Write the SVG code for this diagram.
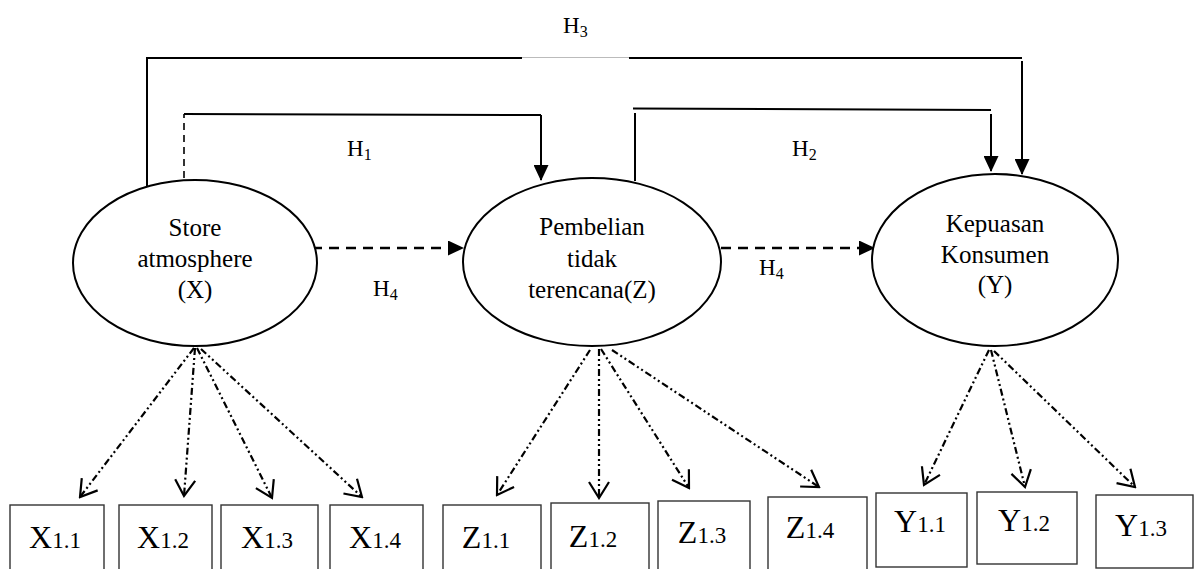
<svg xmlns="http://www.w3.org/2000/svg" width="1195" height="569" viewBox="0 0 1195 569">
<style>
text{font-family:"Liberation Serif","Times New Roman",serif;fill:#000}
.lbl{font-size:25px;text-anchor:middle}
.h{font-size:23px}
.hs{font-size:16px}
.bl{text-anchor:middle}
.big{font-size:32px}
.sm{font-size:23px}
.ell{fill:#fff;stroke:#000;stroke-width:2}
.box{fill:#fff;stroke:#333;stroke-width:1.4}
.solid{fill:none;stroke:#000;stroke-width:2}
.dash{fill:none;stroke:#000;stroke-width:2.5;stroke-dasharray:10 7}
.vdash{fill:none;stroke:#000;stroke-width:1.6;stroke-dasharray:7 5}
.dd{fill:none;stroke:#000;stroke-width:2.2;stroke-dasharray:7 3 2 3 2 3}
</style>
<defs>
<marker id="fa" markerWidth="16" markerHeight="15" refX="15" refY="7.5" orient="auto" markerUnits="userSpaceOnUse"><path d="M0,0 L16,7.5 L0,15 Z" fill="#000"/></marker>
<marker id="oa" markerWidth="20" markerHeight="24" refX="18" refY="12" orient="auto" markerUnits="userSpaceOnUse"><path d="M2,2 L18,12 L2,22" fill="none" stroke="#000" stroke-width="2.2"/></marker>
</defs>
<g id="connectors">
<path class="solid" d="M147,186 V58 H522"/>
<line x1="522" y1="57.5" x2="629" y2="57.5" stroke="#bbb" stroke-width="1"/>
<path class="solid" d="M629,58 H1022"/>
<path class="solid" d="M1022,61 V174" marker-end="url(#fa)"/>
<path class="vdash" d="M184,178 V114"/>
<path class="solid" d="M184,114 L541,115"/>
<path class="solid" d="M541,115 V180" marker-end="url(#fa)"/>
<path class="solid" d="M635,181 V113"/>
<path class="solid" d="M633,108.5 L991,110"/>
<path class="solid" d="M991,114 V171" marker-end="url(#fa)"/>
<path class="dash" d="M312,248 H463" marker-end="url(#fa)"/>
<path class="dash" d="M721,248 H874" marker-end="url(#fa)"/>
<path class="dd" d="M194,348 L80,497" marker-end="url(#oa)"/>
<path class="dd" d="M195,348 L184,496" marker-end="url(#oa)"/>
<path class="dd" d="M197,348 L272,498" marker-end="url(#oa)"/>
<path class="dd" d="M201,349 L362,497" marker-end="url(#oa)"/>
<path class="dd" d="M590,350 L497,495" marker-end="url(#oa)"/>
<path class="dd" d="M599,349 L599,498" marker-end="url(#oa)"/>
<path class="dd" d="M601,349 L689,488" marker-end="url(#oa)"/>
<path class="dd" d="M612,350 L819,487" marker-end="url(#oa)"/>
<path class="dd" d="M989,350 L924,485" marker-end="url(#oa)"/>
<path class="dd" d="M991,350 L1025,487" marker-end="url(#oa)"/>
<path class="dd" d="M994,351 L1135,487" marker-end="url(#oa)"/>
</g>
<g id="labels">
<text x="563" y="33" class="h">H<tspan class="hs" dy="4">3</tspan></text>
<text x="347" y="156" class="h">H<tspan class="hs" dy="4">1</tspan></text>
<text x="792" y="156" class="h">H<tspan class="hs" dy="4">2</tspan></text>
<text x="373" y="296" class="h">H<tspan class="hs" dy="4">4</tspan></text>
<text x="759" y="275" class="h">H<tspan class="hs" dy="4">4</tspan></text>
</g>
<g id="node-x">
<ellipse class="ell" cx="195" cy="263" rx="122" ry="83"/>
<text class="lbl" x="195" y="236">Store</text>
<text class="lbl" x="195" y="267">atmosphere</text>
<text class="lbl" x="195" y="298">(X)</text>
</g>
<g id="node-z">
<ellipse class="ell" cx="592" cy="262" rx="129" ry="84"/>
<text class="lbl" x="592" y="235">Pembelian</text>
<text class="lbl" x="592" y="267">tidak</text>
<text class="lbl" x="592" y="298">terencana(Z)</text>
</g>
<g id="node-y">
<ellipse class="ell" cx="995" cy="260" rx="123" ry="86"/>
<text class="lbl" x="995" y="232">Kepuasan</text>
<text class="lbl" x="995" y="263">Konsumen</text>
<text class="lbl" x="995" y="293">(Y)</text>
</g>
<g id="x11"><rect class="box" x="10" y="505" width="94" height="70"/><text class="bl" x="55" y="548"><tspan class="big">X</tspan><tspan class="sm">1.1</tspan></text></g>
<g id="x12"><rect class="box" x="119" y="505" width="93" height="70"/><text class="bl" x="163" y="548"><tspan class="big">X</tspan><tspan class="sm">1.2</tspan></text></g>
<g id="x13"><rect class="box" x="221" y="505" width="97" height="70"/><text class="bl" x="267" y="548"><tspan class="big">X</tspan><tspan class="sm">1.3</tspan></text></g>
<g id="x14"><rect class="box" x="330" y="505" width="93" height="70"/><text class="bl" x="375" y="548"><tspan class="big">X</tspan><tspan class="sm">1.4</tspan></text></g>
<g id="z11"><rect class="box" x="443" y="505" width="98" height="70"/><text class="bl" x="486" y="548"><tspan class="big">Z</tspan><tspan class="sm">1.1</tspan></text></g>
<g id="z12"><rect class="box" x="551" y="503" width="98" height="72"/><text class="bl" x="593" y="547"><tspan class="big">Z</tspan><tspan class="sm">1.2</tspan></text></g>
<g id="z13"><rect class="box" x="658" y="501" width="92" height="74"/><text class="bl" x="702" y="543"><tspan class="big">Z</tspan><tspan class="sm">1.3</tspan></text></g>
<g id="z14"><rect class="box" x="768" y="497" width="99" height="78"/><text class="bl" x="810" y="538"><tspan class="big">Z</tspan><tspan class="sm">1.4</tspan></text></g>
<g id="y11"><rect class="box" x="876" y="493" width="91" height="74"/><text class="bl" x="920" y="532"><tspan class="big">Y</tspan><tspan class="sm">1.1</tspan></text></g>
<g id="y12"><rect class="box" x="977" y="492" width="100" height="72"/><text class="bl" x="1024" y="531"><tspan class="big">Y</tspan><tspan class="sm">1.2</tspan></text></g>
<g id="y13"><rect class="box" x="1096" y="495" width="97" height="73"/><text class="bl" x="1141" y="536"><tspan class="big">Y</tspan><tspan class="sm">1.3</tspan></text></g>
</svg>
